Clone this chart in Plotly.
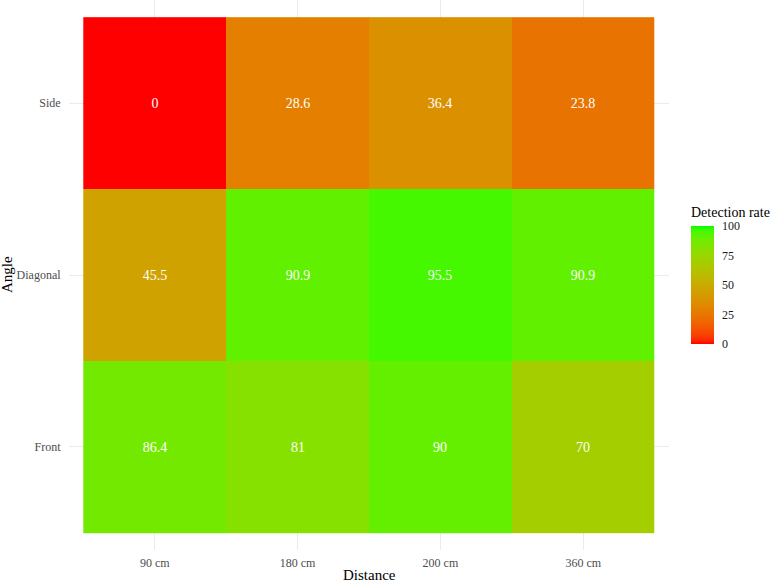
import numpy as np
import plotly.graph_objects as go

distances = ["90 cm", "180 cm", "200 cm", "360 cm"]
angles = ["Front", "Diagonal", "Side"]
front = [86.4, 81, 90, 70]
diagonal = [45.5, 90.9, 95.5, 90.9]
side = [0, 28.6, 36.4, 23.8]
z = [front, diagonal, side]
labels = [[("%g" % v) for v in row] for row in z]

# Lab-space gradient red -> green (like ggplot scale_fill_gradient)
def srgb_to_lab(rgb):
    c = np.array(rgb) / 255.0
    c = np.where(c <= 0.04045, c / 12.92, ((c + 0.055) / 1.055) ** 2.4)
    M = np.array([[0.4124564, 0.3575761, 0.1804375],
                  [0.2126729, 0.7151522, 0.0721750],
                  [0.0193339, 0.1191920, 0.9503041]])
    xyz = M @ c
    wp = np.array([0.95047, 1.0, 1.08883])
    t = xyz / wp
    f = np.where(t > 216 / 24389, np.cbrt(t), (24389 / 27 * t + 16) / 116)
    return np.array([116 * f[1] - 16, 500 * (f[0] - f[1]), 200 * (f[1] - f[2])])

def lab_to_srgb(lab):
    L, a, b = lab
    fy = (L + 16) / 116
    fx = fy + a / 500
    fz = fy - b / 200
    def finv(f):
        return f ** 3 if f ** 3 > 216 / 24389 else (116 * f - 16) / (24389 / 27)
    wp = np.array([0.95047, 1.0, 1.08883])
    xyz = np.array([finv(fx), finv(fy), finv(fz)]) * wp
    Minv = np.array([[3.2404542, -1.5371385, -0.4985314],
                     [-0.9692660, 1.8760108, 0.0415560],
                     [0.0556434, -0.2040259, 1.0572252]])
    c = Minv @ xyz
    c = np.clip(c, 0, 1)
    c = np.where(c <= 0.0031308, 12.92 * c, 1.055 * c ** (1 / 2.4) - 0.055)
    return tuple(int(round(v * 255)) for v in np.clip(c, 0, 1))

lo = srgb_to_lab((255, 0, 0))
hi = srgb_to_lab((0, 255, 0))
scale = []
for t in np.linspace(0, 1, 41):
    r, g, b = lab_to_srgb(lo + (hi - lo) * t)
    scale.append([float(t), f"rgb({r},{g},{b})"])

font = "Liberation Serif"
fig = go.Figure(go.Heatmap(
    x=distances, y=angles, z=z, text=labels, texttemplate="%{text}",
    textfont=dict(family=font, size=14, color="white"),
    colorscale=scale, zmin=0, zmax=100, xgap=0, ygap=0,
    hoverinfo="skip",
    colorbar=dict(
        thickness=23, len=118, lenmode="pixels",
        x=1.0367, xanchor="left", xpad=0, y=0.3745, yanchor="bottom", ypad=0,
        outlinewidth=0, tickvals=[0, 25, 50, 75, 100],
        ticks="outside", ticklen=6, tickcolor="rgba(0,0,0,0)",
        tickfont=dict(family=font, size=12, color="#1a1a1a"),
    ),
))

fig.update_layout(
    width=777, height=582,
    margin=dict(l=69, r=108, t=0, b=32),
    plot_bgcolor="white", paper_bgcolor="white",
    font=dict(family=font),
    xaxis=dict(
        type="category", range=[-0.6, 3.6], showgrid=True, gridcolor="#ebebeb",
        zeroline=False, ticks="outside", ticklen=2, tickcolor="rgba(0,0,0,0)",
        tickfont=dict(family=font, size=12, color="#4d4d4d"), automargin=False,
    ),
    yaxis=dict(
        type="category", range=[-0.6, 2.6], showgrid=True, gridcolor="#ebebeb",
        zeroline=False, ticks="outside", ticklen=5, tickcolor="rgba(0,0,0,0)",
        tickfont=dict(family=font, size=12, color="#4d4d4d"), automargin=False,
    ),
    annotations=[
        dict(text="Distance", xref="paper", yref="paper", x=0.5, y=-0.0455,
             xanchor="center", yanchor="middle", showarrow=False,
             font=dict(family=font, size=15, color="black")),
        dict(text="Angle", xref="paper", yref="paper", x=-0.1033, y=0.5,
             xanchor="center", yanchor="middle", showarrow=False, textangle=-90,
             font=dict(family=font, size=15, color="black")),
        dict(text="Detection rate", xref="paper", yref="paper", x=1.0333, y=0.6145,
             xanchor="left", yanchor="middle", showarrow=False,
             font=dict(family=font, size=14, color="black")),
    ],
)

fig.write_html("out.html")
